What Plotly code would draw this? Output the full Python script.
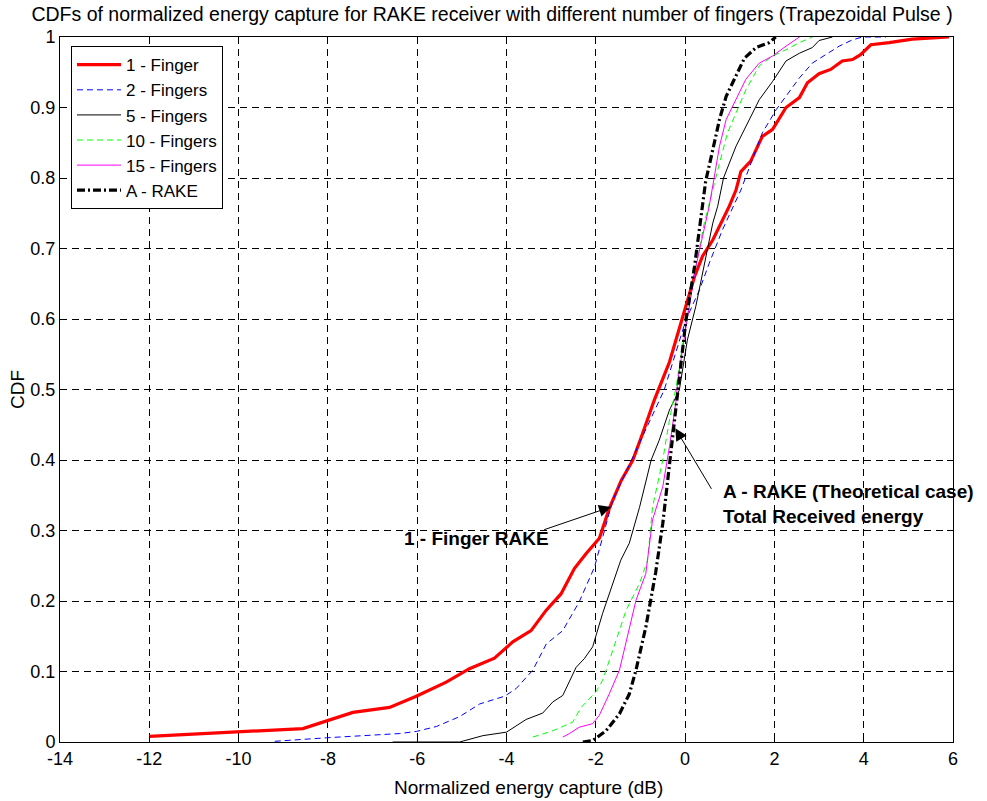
import plotly.graph_objects as go

# Normalized energy capture (dB) and CDF values for each receiver configuration
x_1finger = [-12, -10, -8.56, -7.44, -6.62, -6.02, -5.35, -4.83, -4.27, -3.86, -3.45, -3.11,
             -2.78, -2.48, -2.22, -1.92, -1.70, -1.43, -1.17, -0.95, -0.69, -0.35, -0.05, 0.21,
             0.39, 0.62, 0.99, 1.14, 1.25, 1.47, 1.73, 1.96, 2.26, 2.41, 2.56, 2.74, 3.0, 3.26,
             3.52, 3.75, 3.93, 4.16, 4.57, 5.09, 5.53, 5.91]
cdf_1finger = [0.008, 0.015, 0.019, 0.042, 0.049, 0.065, 0.085, 0.104, 0.119, 0.142, 0.158, 0.187,
               0.21, 0.246, 0.267, 0.289, 0.331, 0.371, 0.40, 0.438, 0.485, 0.539, 0.603, 0.66,
               0.689, 0.712, 0.76, 0.783, 0.809, 0.824, 0.859, 0.869, 0.90, 0.907, 0.914, 0.935,
               0.948, 0.954, 0.966, 0.968, 0.975, 0.989, 0.992, 0.997, 0.998, 1.0]

x_2fingers = [-9.19, -8.03, -6.39, -6.02, -5.57, -5.05, -4.60, -4.04, -3.78, -3.41, -3.11, -2.74,
              -2.37, -2.03, -1.62, -1.17, -0.58, -0.47, 0.02, 0.32, 0.54, 0.84, 1.25, 1.59, 1.73,
              2.04, 2.26, 2.56, 2.85, 3.15, 3.45, 3.75, 3.97, 4.5]
cdf_2fingers = [0.001, 0.006, 0.012, 0.015, 0.022, 0.036, 0.054, 0.065, 0.076, 0.102, 0.139, 0.158,
                0.199, 0.248, 0.343, 0.405, 0.485, 0.499, 0.599, 0.641, 0.679, 0.727, 0.783, 0.84,
                0.864, 0.897, 0.916, 0.942, 0.963, 0.975, 0.987, 0.996, 1.0, 1.0]

x_5fingers = [-6.55, -5.05, -4.53, -4.0, -3.56, -3.19, -2.96, -2.74, -2.44, -2.26, -2.07, -1.85,
              -1.44, -1.25, -1.02, -0.76, -0.58, -0.35, -0.13, 0.05, 0.24, 0.47, 0.62, 0.73, 0.86,
              1.14, 1.44, 1.66, 1.96, 2.26, 2.56, 2.85, 3.0, 3.30]
cdf_5fingers = [0.0, 0.0, 0.009, 0.014, 0.032, 0.041, 0.057, 0.066, 0.106, 0.118, 0.135, 0.182,
                0.258, 0.282, 0.333, 0.40, 0.428, 0.471, 0.499, 0.57, 0.618, 0.689, 0.736, 0.76,
                0.80, 0.845, 0.883, 0.911, 0.937, 0.966, 0.977, 0.985, 0.995, 1.0]

x_10fingers = [-3.41, -2.96, -2.52, -2.33, -2.0, -1.85, -1.62, -1.32, -1.02, -0.84, -0.73, -0.50,
               -0.35, -0.20, 0.02, 0.24, 0.43, 0.62, 0.77, 0.95, 1.14, 1.36, 1.66, 1.96, 2.26,
               2.56, 2.85]
cdf_10fingers = [0.007, 0.016, 0.028, 0.049, 0.071, 0.087, 0.13, 0.187, 0.225, 0.258, 0.333, 0.40,
                 0.457, 0.504, 0.594, 0.674, 0.736, 0.785, 0.821, 0.864, 0.892, 0.925, 0.959,
                 0.973, 0.982, 0.992, 1.0]

x_15fingers = [-2.74, -2.59, -2.37, -2.07, -1.92, -1.70, -1.47, -1.25, -1.10, -0.88, -0.73, -0.50,
               -0.35, -0.20, -0.17, 0.02, 0.24, 0.39, 0.54, 0.65, 0.77, 0.92, 1.14, 1.36, 1.66,
               1.96, 2.26, 2.56]
cdf_15fingers = [0.007, 0.012, 0.021, 0.026, 0.038, 0.068, 0.102, 0.163, 0.201, 0.239, 0.315, 0.362,
                 0.419, 0.485, 0.509, 0.589, 0.674, 0.717, 0.76, 0.80, 0.845, 0.883, 0.911, 0.94,
                 0.963, 0.973, 0.987, 1.0]

x_arake = [-2.29, -2.07, -1.77, -1.47, -1.25, -1.10, -0.88, -0.66, -0.50, -0.35, -0.24, -0.13,
           0.02, 0.21, 0.32, 0.46, 0.62, 0.77, 0.92, 1.10, 1.33, 1.59, 1.88, 2.03]
cdf_arake = [0.0, 0.002, 0.016, 0.04, 0.068, 0.102, 0.163, 0.24, 0.31, 0.395, 0.457, 0.51,
             0.599, 0.674, 0.731, 0.795, 0.84, 0.883, 0.916, 0.94, 0.97, 0.985, 0.992, 1.0]

x_ticks = [-14, -12, -10, -8, -6, -4, -2, 0, 2, 4, 6]
y_ticks = [0, 0.1, 0.2, 0.3, 0.4, 0.5, 0.6, 0.7, 0.8, 0.9, 1]
y_tick_text = ["0", "0.1", "0.2", "0.3", "0.4", "0.5", "0.6", "0.7", "0.8", "0.9", "1"]

FONT = "Liberation Sans, Arial, sans-serif"

series = [
    ("1 - Finger", x_1finger, cdf_1finger, dict(color="#ff0000", width=3.2)),
    ("2 - Fingers", x_2fingers, cdf_2fingers, dict(color="#0000ff", width=1, dash="6px,4px")),
    ("5 - Fingers", x_5fingers, cdf_5fingers, dict(color="#000000", width=1)),
    ("10 - Fingers", x_10fingers, cdf_10fingers, dict(color="#00ff00", width=1, dash="6px,4px")),
    ("15 - Fingers", x_15fingers, cdf_15fingers, dict(color="#ff00ff", width=1)),
    ("A - RAKE", x_arake, cdf_arake, dict(color="#000000", width=3.2, dash="8px,3px,2px,3px")),
]

fig = go.Figure()
for name, xs, ys, line in series:
    fig.add_trace(go.Scatter(x=xs, y=ys, mode="lines", name=name, line=line))

axis_common = dict(
    showline=True, linecolor="black", linewidth=1, mirror="ticks",
    ticks="inside", ticklen=6, tickcolor="black",
    showgrid=True, gridcolor="black", gridwidth=1, griddash="7px,5px",
    zeroline=False, tickfont=dict(family=FONT, size=18, color="black"),
)

fig.update_xaxes(
    range=[-14, 6], tickvals=x_ticks, ticktext=[str(v) for v in x_ticks],
    **axis_common,
)
fig.update_yaxes(
    range=[0, 1], tickvals=y_ticks, ticktext=y_tick_text,
    title=dict(text="CDF", font=dict(family=FONT, size=19, color="black"), standoff=0),
    **axis_common,
)

# x-axis label
fig.add_annotation(x=0.525, y=-0.0646, xref="paper", yref="paper", showarrow=False,
                   xanchor="center", yanchor="middle",
                   text="Normalized energy capture (dB)",
                   font=dict(family=FONT, size=19, color="black"))

# Callout arrows and their labels
fig.add_annotation(x=-1.66, y=0.3335, ax=-3.19, ay=0.3004, axref="x", ayref="y",
                   xref="x", yref="y", text="", showarrow=True,
                   arrowhead=2, arrowsize=2.4, arrowwidth=1, arrowcolor="black")
fig.add_annotation(x=-4.68, y=0.289, xref="x", yref="y", showarrow=False,
                   text="<b>1 - Finger RAKE</b>", font=dict(family=FONT, size=19, color="black"))
fig.add_annotation(x=-0.22, y=0.445, ax=0.61, ay=0.357, axref="x", ayref="y",
                   xref="x", yref="y", text="", showarrow=True,
                   arrowhead=2, arrowsize=2.4, arrowwidth=1, arrowcolor="black")
fig.add_annotation(x=0.80, y=0.337, xref="x", yref="y", showarrow=False,
                   xanchor="left", align="left",
                   text="<b>A - RAKE (Theoretical case)</b><br><b>Total Received energy</b>",
                   font=dict(family=FONT, size=19, color="black"))

fig.update_layout(
    width=987, height=801,
    margin=dict(l=60, r=34, t=37, b=59),
    paper_bgcolor="white", plot_bgcolor="white",
    font=dict(family=FONT, color="black"),
    title=dict(
        text="CDFs of normalized energy capture for RAKE receiver with different number of fingers (Trapezoidal Pulse )",
        font=dict(family=FONT, size=19.5, color="black"),
        x=0.4985, xanchor="center", xref="container",
        y=1 - 14 / 801, yanchor="middle", yref="container",
    ),
    legend=dict(
        x=0.0123, y=0.987, xanchor="left", yanchor="top",
        bgcolor="white", bordercolor="black", borderwidth=1,
        font=dict(family=FONT, size=17, color="black"),
        itemwidth=44, tracegroupgap=0,
    ),
    showlegend=True,
)

fig.write_html("out.html")
